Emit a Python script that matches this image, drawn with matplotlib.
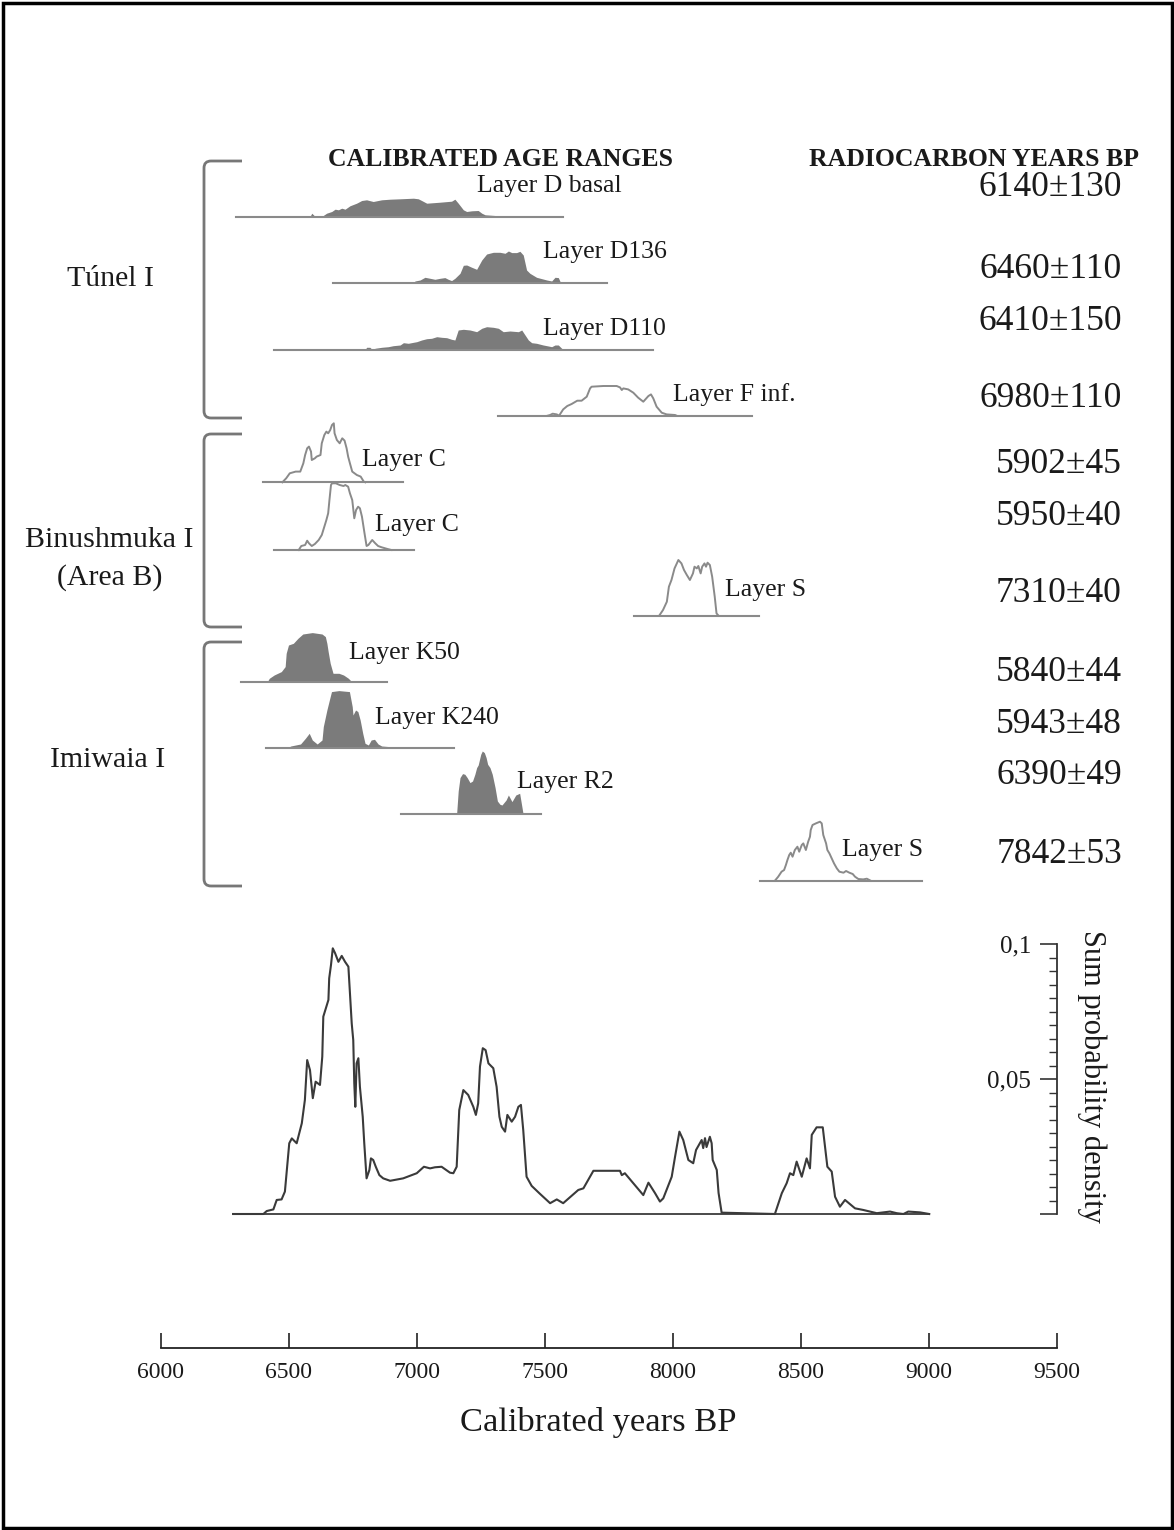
import numpy as np
import matplotlib
matplotlib.use("Agg")
import matplotlib.pyplot as plt
from matplotlib.path import Path
from matplotlib.patches import PathPatch, Rectangle
from matplotlib.ticker import MultipleLocator, FixedLocator

plt.rcParams['font.family'] = ['Liberation Serif', 'DejaVu Serif']

# ---- dados: curvas de probabilidade calibrada (anos BP, altura relativa) ----
dbasal_yr = [6582, 6589, 6602, 6628, 6647, 6667, 6680, 6693, 6706, 6719, 6738, 6764, 6784, 6803, 6829,
             6862, 6895, 6934, 6986, 7005, 7018, 7038, 7090, 7135, 7148, 7161, 7181, 7194, 7214, 7239,
             7253, 7266, 7305, 7309]
dbasal_h = [0, 3.3, 0, 0, 3.3, 5, 7.3, 6.7, 8.3, 7.3, 10.7, 13.3, 16, 16.7, 15, 16.7, 17.3, 17.7, 18.3,
            17.7, 16, 13.3, 14.3, 15.3, 17.3, 13.3, 6.7, 5, 5.7, 6, 3.3, 1.7, 1, 0]

d136_yr = [6986, 6992, 7012, 7031, 7051, 7070, 7090, 7109, 7122, 7135, 7148, 7168, 7181, 7194, 7214,
           7233, 7253, 7272, 7298, 7324, 7344, 7357, 7370, 7389, 7402, 7415, 7428, 7441, 7467, 7507,
           7526, 7539, 7552, 7559, 7571, 7585]
d136_h = [0, 2.3, 3.3, 6, 5, 4, 5, 5.7, 4, 2.7, 5, 10, 18, 18.3, 16, 14, 23.3, 29.3, 31, 31, 30, 32.3,
          30.7, 30.7, 32, 28.3, 13.3, 10, 6, 3.3, 2.3, 6, 5.7, 1.7, 0.7, 0]

d110_yr = [6797, 6803, 6816, 6827, 6836, 6862, 6888, 6907, 6934, 6947, 6966, 6986, 6999, 7018, 7038,
           7057, 7077, 7096, 7116, 7135, 7148, 7161, 7181, 7207, 7233, 7253, 7272, 7298, 7318, 7337,
           7363, 7396, 7409, 7422, 7435, 7448, 7467, 7493, 7513, 7526, 7539, 7552, 7565, 7578]
d110_h = [0, 2.7, 2.7, 0, 1.7, 2.7, 3.3, 4.3, 5, 7.3, 6.7, 7.7, 8.3, 10, 11.3, 11.7, 13.3, 12.7, 12.3,
          10.7, 10, 20, 20.7, 20, 18.3, 21.7, 23.3, 22.7, 21.7, 18.3, 19, 18.3, 20, 15, 10, 7.3, 6.7, 5,
          4, 3.3, 5, 5, 1.7, 0]

finf_yr = [7510, 7520, 7530, 7546, 7555, 7571, 7587, 7604, 7626, 7643, 7663, 7676, 7682, 7728, 7780,
           7793, 7800, 7806, 7825, 7845, 7864, 7884, 7904, 7914, 7923, 7936, 7956, 7975, 8008, 8014]
finf_h = [0, 0.7, 2, 1.3, 0, 6.3, 9.7, 11.7, 15, 15, 19, 27.3, 29, 29.7, 29.7, 28.3, 25.7, 27.3, 26.3,
          23, 18, 14, 19.7, 21.3, 17.3, 9, 3, 1.3, 0.7, 0]

c1_yr = [6474, 6489, 6503, 6526, 6544, 6556, 6563, 6571, 6578, 6586, 6589, 6601, 6608, 6623, 6628,
         6638, 6646, 6653, 6661, 6668, 6675, 6678, 6687, 6698, 6708, 6717, 6725, 6731, 6738, 6747,
         6765, 6780, 6792, 6798]
c1_h = [0, 4, 9, 10.7, 10.7, 19, 27.3, 34, 35.7, 30.7, 22.3, 24, 25.7, 27.3, 39, 47.3, 50.7, 49, 52.3,
        57.3, 59, 49, 42.3, 39, 44, 41.7, 34, 25.7, 19, 10.7, 7.3, 5.7, 0.7, 0]

c2_yr = [6538, 6548, 6563, 6571, 6578, 6589, 6601, 6616, 6628, 6638, 6646, 6653, 6658, 6664, 6668,
         6683, 6698, 6713, 6720, 6731, 6738, 6747, 6750, 6755, 6762, 6770, 6777, 6785, 6795, 6803,
         6810, 6825, 6837, 6848, 6862, 6885, 6900]
c2_h = [0, 4, 5, 9.3, 6.7, 4, 6, 10, 15, 23.3, 30, 36.7, 50, 65, 66.7, 66.7, 65, 64, 65, 63.3, 56.7,
        50, 43.3, 31.7, 40, 43.3, 41.7, 33.3, 16.7, 4, 5, 10, 6.7, 4, 2.7, 1, 0]

sbin_yr = [7946, 7961, 7976, 7984, 7994, 8006, 8021, 8033, 8043, 8054, 8066, 8078, 8084, 8093, 8099,
           8108, 8114, 8123, 8129, 8135, 8144, 8153, 8163, 8170, 8178]
sbin_h = [0, 5.7, 14, 29, 35.7, 47.3, 55.7, 52.3, 45.7, 40.7, 35.7, 42.3, 49, 47.3, 49.7, 42.3, 49,
          52.3, 49, 53, 50.7, 39, 19, 2.3, 0]

k50_yr = [6414, 6423, 6442, 6470, 6485, 6489, 6498, 6517, 6535, 6554, 6591, 6629, 6642, 6648, 6653,
          6661, 6672, 6695, 6713, 6732, 6747]
k50_h = [0, 4, 7.3, 10.7, 15.7, 29, 37.3, 39, 44, 48.3, 49.7, 48.3, 45.7, 39, 30.7, 19, 9, 9, 7.3, 4, 0]

k240_yr = [6489, 6507, 6545, 6564, 6579, 6591, 6610, 6629, 6634, 6648, 6661, 6666, 6695, 6736, 6747,
           6750, 6760, 6769, 6778, 6788, 6797, 6810, 6821, 6834, 6848, 6862, 6891, 6919, 6928]
k240_h = [0, 2.3, 4.3, 10, 15, 8.3, 4.3, 8.3, 21.7, 38.3, 51.7, 56.7, 57.7, 56.7, 41.7, 33.3, 38.3,
          36.7, 28.3, 15, 5, 3.3, 8.3, 9, 4.3, 2.3, 1.7, 1.7, 0]

r2_yr = [7003, 7010, 7060, 7150, 7155, 7161, 7168, 7178, 7187, 7196, 7207, 7217, 7226, 7233, 7239,
         7249, 7255, 7263, 7270, 7276, 7285, 7294, 7305, 7314, 7324, 7332, 7348, 7357, 7371, 7386,
         7401, 7414, 7423]
r2_h = [0, 1.7, 1.3, 1.3, 1.3, 23.3, 36.7, 40.7, 40, 36.7, 31.7, 33.3, 40, 46.7, 49.3, 60, 63.3, 61.7,
        56.7, 50, 46.7, 40, 26.7, 13.3, 10, 9.3, 14.3, 19.3, 12.7, 19.3, 21, 1, 0]

simi_yr = [8398, 8411, 8424, 8434, 8441, 8447, 8454, 8460, 8467, 8476, 8486, 8493, 8503, 8509, 8519,
           8528, 8535, 8538, 8545, 8558, 8574, 8581, 8587, 8598, 8603, 8611, 8620, 8629, 8640, 8650,
           8666, 8676, 8689, 8702, 8711, 8724, 8743, 8757, 8767, 8772]
simi_h = [0, 4, 9, 10.7, 15.7, 20.7, 25.7, 28, 24, 30.7, 34, 29, 35.7, 37.3, 30.7, 39, 44, 50.7, 55.7,
          57.3, 59, 57.3, 45.7, 37.3, 30.7, 27.3, 22.3, 17.3, 12.3, 9, 8, 9.7, 8, 6.7, 4, 1.7, 1.3, 2,
          0.7, 0]

# intervalo da linha de base de cada amostra (anos BP)
base_ranges = [(6293, 7569), (6673, 7743), (6441, 7923), (7318, 8307), (6399, 6945), (6441, 6989),
               (7849, 8335), (6311, 6881), (6409, 7143), (6938, 7483), (8340, 8971)]
layer_labels = ["Layer D basal", "Layer D136", "Layer D110", "Layer F inf.", "Layer C", "Layer C",
                "Layer S", "Layer K50", "Layer K240", "Layer R2", "Layer S"]
radiocarbon = ["6140±130", "6460±110", "6410±150", "6980±110", "5902±45", "5950±40", "7310±40",
               "5840±44", "5943±48", "6390±49", "7842±53"]
filled = [True, True, True, False, False, False, False, True, True, True, False]
sites = ["Túnel I", "Binushmuka I", "(Area B)", "Imiwaia I"]

# soma das probabilidades
sum_years = [6282, 6400, 6413, 6439, 6452, 6471, 6484, 6491, 6501, 6511, 6530, 6550, 6562, 6571, 6582,
             6593, 6604, 6621, 6630, 6634, 6654, 6657, 6664, 6671, 6680, 6693, 6706, 6719, 6732, 6738,
             6745, 6751, 6755, 6759, 6764, 6771, 6777, 6788, 6794, 6803, 6814, 6820, 6829, 6839, 6853,
             6868, 6895, 6946, 6999, 7027, 7051, 7070, 7096, 7129, 7142, 7155, 7165, 7181, 7200, 7220,
             7230, 7239, 7246, 7257, 7268, 7279, 7298, 7311, 7322, 7331, 7344, 7353, 7370, 7383, 7396,
             7406, 7415, 7428, 7448, 7480, 7520, 7546, 7571, 7630, 7650, 7689, 7793, 7800, 7812, 7884,
             7904, 7930, 7949, 7962, 7995, 8008, 8025, 8040, 8060, 8079, 8090, 8112, 8118, 8125, 8131,
             8144, 8151, 8155, 8171, 8178, 8190, 8398, 8425, 8444, 8457, 8470, 8483, 8503, 8522, 8535,
             8542, 8561, 8585, 8594, 8603, 8620, 8633, 8652, 8672, 8711, 8743, 8796, 8848, 8874, 8900,
             8919, 8965, 9001]
sum_dens = [0, 0, 0.0011, 0.0017, 0.0052, 0.0054, 0.0083, 0.0157, 0.0262, 0.0280, 0.0262, 0.0336,
            0.0422, 0.0570, 0.0533, 0.0429, 0.0490, 0.0478, 0.0583, 0.0731, 0.0793, 0.0873, 0.0922,
            0.0984, 0.0966, 0.0934, 0.0956, 0.0934, 0.0916, 0.0817, 0.0706, 0.0644, 0.0484, 0.0397,
            0.0558, 0.0577, 0.0471, 0.0360, 0.0262, 0.0132, 0.0163, 0.0206, 0.0200, 0.0175, 0.0144,
            0.0132, 0.0123, 0.0132, 0.0151, 0.0175, 0.0169, 0.0173, 0.0175, 0.0153, 0.0151, 0.0175,
            0.0385, 0.0459, 0.0441, 0.0397, 0.0367, 0.0410, 0.0546, 0.0614, 0.0607, 0.0558, 0.0540,
            0.0471, 0.0360, 0.0323, 0.0305, 0.0367, 0.0342, 0.0360, 0.0397, 0.0404, 0.0311, 0.0138,
            0.0104, 0.0075, 0.0040, 0.0054, 0.0040, 0.0089, 0.0095, 0.0160, 0.0160, 0.0144, 0.0151,
            0.0070, 0.0116, 0.0077, 0.0046, 0.0058, 0.0138, 0.0212, 0.0305, 0.0274, 0.0200, 0.0188,
            0.0237, 0.0274, 0.0244, 0.0281, 0.0248, 0.0286, 0.0262, 0.0200, 0.0163, 0.0078, 0.0005, 0,
            0.0077, 0.0114, 0.0151, 0.0144, 0.0194, 0.0138, 0.0206, 0.0169, 0.0293, 0.0321, 0.0321,
            0.0249, 0.0175, 0.0157, 0.0064, 0.0027, 0.0052, 0.0021, 0.0015, 0.0003, 0.0009, 0.0003, 0,
            0.0009, 0.0006, 0]

x_ticks = [6000, 6500, 7000, 7500, 8000, 8500, 9000, 9500]

curves = [(dbasal_yr, dbasal_h), (d136_yr, d136_h), (d110_yr, d110_h), (finf_yr, finf_h),
          (c1_yr, c1_h), (c2_yr, c2_h), (sbin_yr, sbin_h), (k50_yr, k50_h), (k240_yr, k240_h),
          (r2_yr, r2_h), (simi_yr, simi_h)]

# ---- layout (pixels da figura) ----
W, H = 1174, 1530
PX0, PXW = 161, 896  # 6000 -> 161 px, 9500 -> 1057 px
scale = PXW / 3500.0
yr_left = 6000 - PX0 / scale
yr_right = 6000 + (W - PX0) / scale

base_y = [216.5, 283.3, 350, 415.7, 482.3, 550, 615.7, 682.3, 748.3, 814.3, 880.7]
label_pos = [(477, 186), (543, 252), (543, 329), (673, 395), (362, 460), (375, 525), (725, 590),
             (349, 653), (375, 718), (517, 782), (842, 850)]
date_y = [187, 269, 321, 398, 464, 516, 593, 672, 724, 775, 854]
brackets = [(161, 418), (434, 627), (642, 886)]
site_pos = [(110, 279), (109, 540), (110, 578), (108, 760)]

TXT = "#1a1a1a"
FILL = "#7b7b7b"
LINE = "#8a8a8a"

fig = plt.figure(figsize=(W / 100, H / 100), dpi=100)

# eixo de moldura em pixels
frame = fig.add_axes([0, 0, 1, 1])
frame.set_xlim(0, W)
frame.set_ylim(H, 0)
frame.axis("off")
frame.add_patch(Rectangle((2.5, 2.5), W - 5, H - 5, fill=False, ec="black", lw=2.5))

# eixo das camadas: anos x pixels
lay = fig.add_axes([0, 0, 1, 1])
lay.set_xlim(yr_left, yr_right)
lay.set_ylim(H, 0)
lay.axis("off")
lay.patch.set_alpha(0)

for i, (yr, h) in enumerate(curves):
    yr = np.array(yr, dtype=float)
    h = np.array(h, dtype=float)
    b = base_y[i]
    x0, x1 = base_ranges[i]
    if filled[i]:
        lay.fill_between(yr, b, b - h, color=FILL, lw=0)
        lay.plot([x0, x1], [b, b], color=LINE, lw=1.5)
    else:
        lay.plot([x0, x1], [b, b], color=LINE, lw=1.5)
        lay.plot(yr, b - h, color=LINE, lw=1.4)
    lx, ly = label_pos[i]
    frame.text(lx, ly, layer_labels[i], fontsize=18.5, color=TXT, ha="left", va="center")
    frame.text(1122, date_y[i], radiocarbon[i], fontsize=25.5, color=TXT, ha="right", va="center")

# chaves dos sítios
for top, bot in brackets:
    x, r, xe = 204, 7, 242
    verts = [(xe, top), (x + r, top), (x, top), (x, top + r), (x, bot - r), (x, bot), (x + r, bot), (xe, bot)]
    codes = [Path.MOVETO, Path.LINETO, Path.CURVE3, Path.CURVE3, Path.LINETO, Path.CURVE3, Path.CURVE3, Path.LINETO]
    frame.add_patch(PathPatch(Path(verts, codes), fill=False, ec="#777777", lw=2))

for (sx, sy), s in zip(site_pos, sites):
    frame.text(sx, sy, s, fontsize=21.5, color=TXT, ha="center", va="center")

frame.text(500, 159, "CALIBRATED AGE RANGES", fontsize=18.5, fontweight="bold", color=TXT,
           ha="center", va="center")
frame.text(974, 159, "RADIOCARBON YEARS BP", fontsize=18.5, fontweight="bold", color=TXT,
           ha="center", va="center")

# curva da soma das probabilidades
s_top, s_bot = 944, 1214
ax = fig.add_axes([PX0 / W, 1 - s_bot / H, PXW / W, (s_bot - s_top) / H])
ax.patch.set_alpha(0)
ax.set_xlim(6000, 9500)
ax.set_ylim(0, 0.1)
ax.plot(sum_years, sum_dens, color="#3a3a3a", lw=1.5, clip_on=False)
ax.plot([sum_years[0], sum_years[-1]], [0, 0], color="#3a3a3a", lw=1.3, clip_on=False)
for sp in ["top", "right", "bottom"]:
    ax.spines[sp].set_visible(False)
ax.spines["left"].set_position(("data", 9500))
ax.spines["left"].set_color("#333333")
ax.spines["left"].set_linewidth(1.3)
ax.xaxis.set_visible(False)
ax.yaxis.set_major_locator(FixedLocator([0, 0.05, 0.1]))
ax.yaxis.set_minor_locator(MultipleLocator(0.005))
ax.set_yticklabels(["", "0,05", "0,1"])
ax.tick_params(axis="y", which="major", direction="out", length=12.5, width=1.2, color="#333333",
               labelsize=18, labelcolor=TXT, pad=6)
ax.tick_params(axis="y", which="minor", direction="out", length=5.5, width=1, color="#333333")
frame.text(1092, 1076, "Sum probability density", fontsize=22, color=TXT, rotation=270,
           ha="center", va="center")

# eixo x inferior
axx = fig.add_axes([PX0 / W, 1 - 1348 / H, PXW / W, 0.02])
axx.patch.set_alpha(0)
axx.set_xlim(6000, 9500)
for sp in ["top", "right", "left"]:
    axx.spines[sp].set_visible(False)
axx.spines["bottom"].set_color("#222222")
axx.spines["bottom"].set_linewidth(1.3)
axx.yaxis.set_visible(False)
axx.set_xticks(x_ticks)
axx.set_xticklabels([str(t) for t in x_ticks])
axx.tick_params(axis="x", direction="in", length=11, width=1.2, color="#222222", labelsize=17,
                labelcolor=TXT, pad=10)
frame.text(598, 1422, "Calibrated years BP", fontsize=24.8, color=TXT, ha="center", va="center")

fig.savefig("out.png", dpi=100)
